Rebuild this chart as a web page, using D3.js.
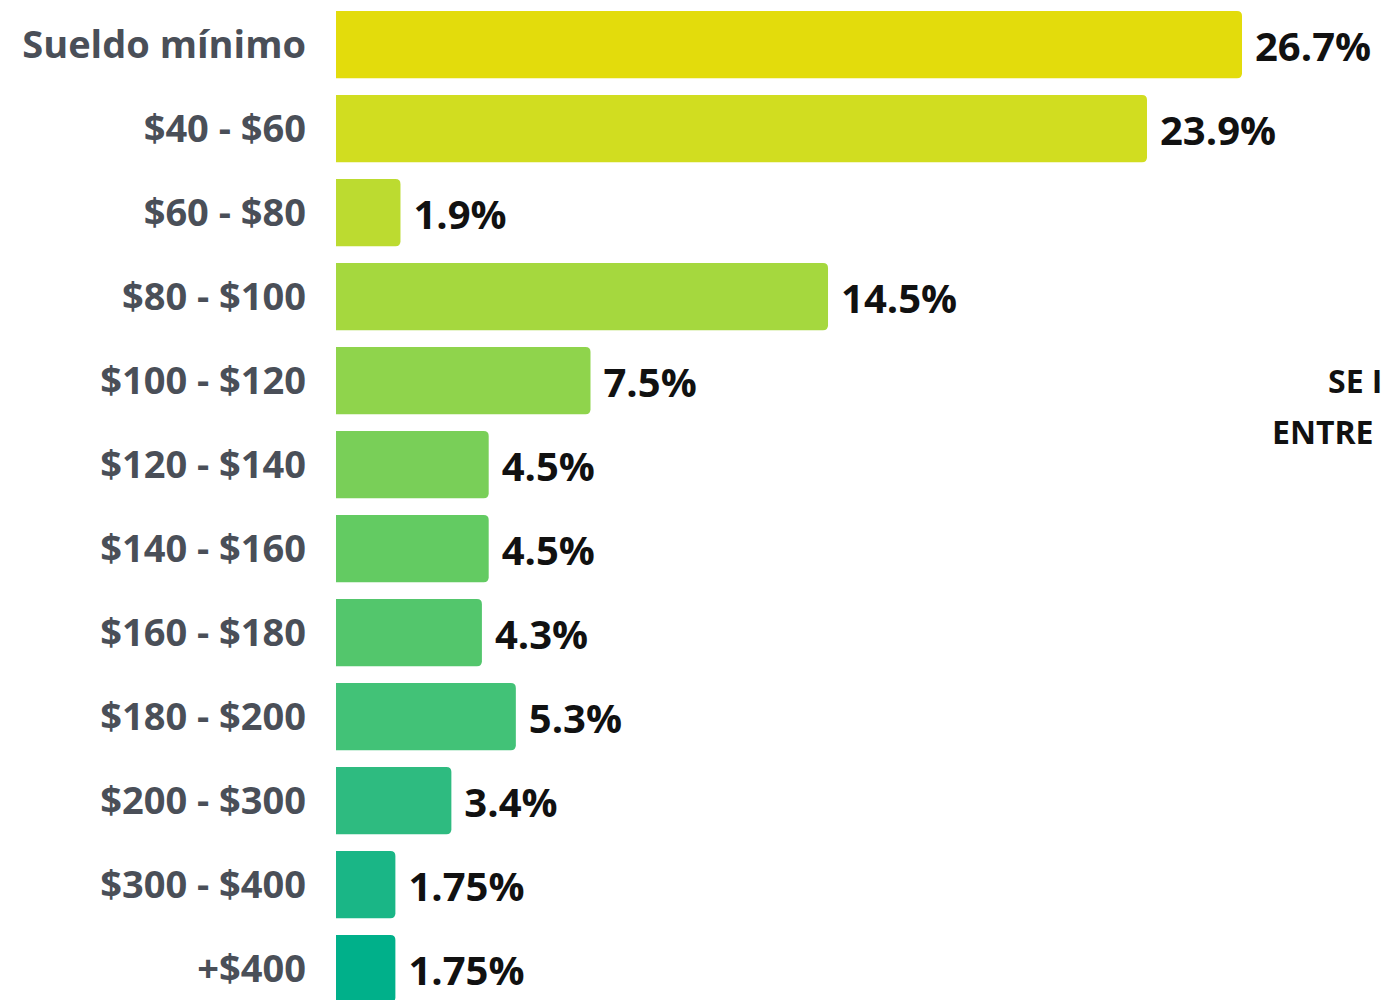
<!DOCTYPE html>
<html>
<head>
<meta charset="utf-8">
<script src="https://cdn.jsdelivr.net/npm/d3@7"></script>
<style>
  html, body { margin: 0; padding: 0; background: #ffffff; overflow: hidden; }
  svg { display: block; }
</style>
</head>
<body>
<svg id="chart" width="1384" height="1000"></svg>
<script>
const categories = ["Sueldo mínimo", "$40 - $60", "$60 - $80", "$80 - $100", "$100 - $120", "$120 - $140",
  "$140 - $160", "$160 - $180", "$180 - $200", "$200 - $300", "$300 - $400", "+$400"];
const values = [26.7, 23.9, 1.9, 14.5, 7.5, 4.5, 4.5, 4.3, 5.3, 3.4, 1.75, 1.75];
const valueLabels = ["26.7%", "23.9%", "1.9%", "14.5%", "7.5%", "4.5%", "4.5%", "4.3%", "5.3%", "3.4%", "1.75%", "1.75%"];
const barColors = ["#e3dc0c", "#d1dd20", "#bcdb30", "#a5d83e", "#8fd44c", "#79cf58", "#63cb62", "#53c66c", "#42c277", "#2ebb80", "#1ab686", "#00b08a"];
const sideNote = ["SE I", "ENTRE"];

const svg = d3.select("#chart");
const x = d3.scaleLinear().domain([0, 26.7]).range([336, 1242]);
const y = d3.scaleBand().domain(categories).range([11, 11 + 84 * 11.8]).paddingInner(0.2).paddingOuter(0).align(0);
const r = 5;

function barPath(x0, x1, y0, h) {
  const rr = Math.min(r, (x1 - x0) / 2);
  return `M${x0},${y0} H${x1 - rr} Q${x1},${y0} ${x1},${y0 + rr} V${y0 + h - rr} Q${x1},${y0 + h} ${x1 - rr},${y0 + h} H${x0} Z`;
}

const g = svg.append("g");
g.selectAll("path.bar").data(values).join("path")
  .attr("class", "bar")
  .attr("d", (d, i) => barPath(x(0), x(d), y(categories[i]), y.bandwidth()))
  .attr("fill", (d, i) => barColors[i]);

g.selectAll("text.cat").data(categories).join("text")
  .attr("class", "cat")
  .attr("x", 306)
  .attr("y", d => y(d) + y.bandwidth() / 2 + 13)
  .attr("text-anchor", "end")
  .attr("font-family", "'Open Sans', 'Noto Sans', sans-serif")
  .attr("font-weight", 700)
  .attr("font-size", 38)
  .attr("fill", "#4a4f58")
  .text(d => d);

g.selectAll("text.val").data(values).join("text")
  .attr("class", "val")
  .attr("x", d => x(d) + 13)
  .attr("y", (d, i) => y(categories[i]) + y.bandwidth() / 2 + 16)
  .attr("font-family", "'Open Sans', 'Noto Sans', sans-serif")
  .attr("font-weight", 700)
  .attr("font-size", 40)
  .attr("fill", "#111111")
  .text((d, i) => valueLabels[i]);

g.selectAll("text.note").data(sideNote).join("text")
  .attr("class", "note")
  .attr("x", (d, i) => i === 0 ? 1328 : 1272)
  .attr("y", (d, i) => 393 + i * 51)
  .attr("font-family", "'Open Sans', 'Noto Sans', sans-serif")
  .attr("font-weight", 700)
  .attr("font-size", 32)
  .attr("fill", "#111111")
  .text(d => d);
</script>
</body>
</html>
